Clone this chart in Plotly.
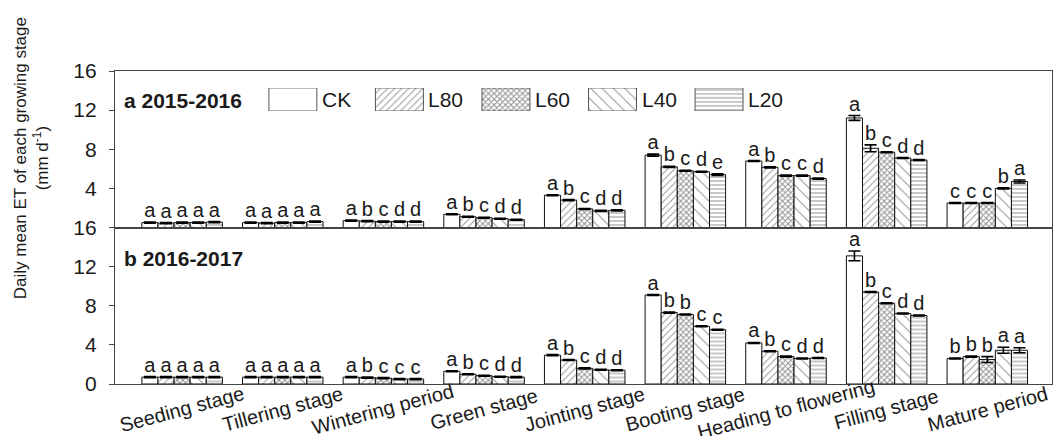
import plotly.graph_objects as go

stages = ["Seeding stage", "Tillering stage", "Wintering period", "Green stage",
          "Jointing stage", "Booting stage", "Heading to flowering", "Filling stage",
          "Mature period"]
series = ["CK", "L80", "L60", "L40", "L20"]

# 2015-2016
a_CK  = [0.5, 0.5, 0.7, 1.35, 3.3, 7.4, 6.8, 11.2, 2.5]
a_L80 = [0.45, 0.45, 0.65, 1.1, 2.8, 6.2, 6.15, 8.1, 2.5]
a_L60 = [0.5, 0.5, 0.6, 1.0, 1.9, 5.8, 5.3, 7.7, 2.5]
a_L40 = [0.5, 0.5, 0.6, 0.9, 1.7, 5.7, 5.3, 7.1, 4.0]
a_L20 = [0.55, 0.6, 0.6, 0.8, 1.75, 5.4, 5.0, 6.9, 4.7]
a_err_CK  = [0.05, 0.05, 0.05, 0.05, 0.05, 0.1, 0.05, 0.25, 0.05]
a_err_L80 = [0.05, 0.05, 0.05, 0.05, 0.05, 0.05, 0.05, 0.35, 0.05]
a_err_L60 = [0.05, 0.05, 0.05, 0.05, 0.05, 0.05, 0.05, 0.05, 0.05]
a_err_L40 = [0.05, 0.05, 0.05, 0.05, 0.05, 0.05, 0.05, 0.05, 0.05]
a_err_L20 = [0.05, 0.05, 0.05, 0.05, 0.05, 0.08, 0.05, 0.05, 0.15]
a_let_CK  = ["a", "a", "a", "a", "a", "a", "a", "a", "c"]
a_let_L80 = ["a", "a", "b", "b", "b", "b", "b", "b", "c"]
a_let_L60 = ["a", "a", "c", "c", "c", "c", "c", "c", "c"]
a_let_L40 = ["a", "a", "d", "d", "d", "d", "c", "d", "b"]
a_let_L20 = ["a", "a", "d", "d", "d", "e", "d", "d", "a"]

# 2016-2017
b_CK  = [0.7, 0.7, 0.7, 1.3, 2.95, 9.1, 4.2, 13.1, 2.6]
b_L80 = [0.7, 0.7, 0.65, 1.0, 2.45, 7.3, 3.35, 9.4, 2.8]
b_L60 = [0.7, 0.7, 0.6, 0.85, 1.6, 7.1, 2.8, 8.25, 2.5]
b_L40 = [0.7, 0.7, 0.5, 0.75, 1.45, 5.9, 2.6, 7.2, 3.45]
b_L20 = [0.7, 0.7, 0.5, 0.7, 1.4, 5.55, 2.65, 7.0, 3.45]
b_err_CK  = [0.05, 0.05, 0.05, 0.05, 0.05, 0.05, 0.05, 0.5, 0.05]
b_err_L80 = [0.05, 0.05, 0.05, 0.05, 0.05, 0.05, 0.05, 0.05, 0.05]
b_err_L60 = [0.05, 0.05, 0.05, 0.05, 0.05, 0.05, 0.05, 0.05, 0.3]
b_err_L40 = [0.05, 0.05, 0.05, 0.05, 0.05, 0.05, 0.05, 0.05, 0.3]
b_err_L20 = [0.05, 0.05, 0.05, 0.05, 0.05, 0.05, 0.05, 0.05, 0.25]
b_let_CK  = ["a", "a", "a", "a", "a", "a", "a", "a", "b"]
b_let_L80 = ["a", "a", "b", "b", "b", "b", "b", "b", "b"]
b_let_L60 = ["a", "a", "c", "c", "c", "b", "c", "c", "b"]
b_let_L40 = ["a", "a", "c", "d", "d", "c", "d", "d", "a"]
b_let_L20 = ["a", "a", "c", "d", "d", "c", "d", "d", "a"]

y_ticks_top = [4, 8, 12, 16]
y_ticks_bottom = [0, 4, 8, 12, 16]

pat_shape = ["", "/", "x", "\\", "-"]
pat_size = [8, 5, 4, 8, 4]
pat_sol = [0.2, 0.18, 0.45, 0.12, 0.25]

panels = [
    ("x", "y", [a_CK, a_L80, a_L60, a_L40, a_L20],
     [a_err_CK, a_err_L80, a_err_L60, a_err_L40, a_err_L20],
     [a_let_CK, a_let_L80, a_let_L60, a_let_L40, a_let_L20]),
    ("x2", "y2", [b_CK, b_L80, b_L60, b_L40, b_L20],
     [b_err_CK, b_err_L80, b_err_L60, b_err_L40, b_err_L20],
     [b_let_CK, b_let_L80, b_let_L60, b_let_L40, b_let_L20]),
]

FONT = "Liberation Sans, Arial, sans-serif"
TXT = "#1a1a1a"
AX = "#444444"

fig = go.Figure()
for xa, ya, vals, errs, lets in panels:
    for i, name in enumerate(series):
        fig.add_trace(go.Bar(
            x=stages, y=vals[i], name=name, xaxis=xa, yaxis=ya,
            offsetgroup=name, alignmentgroup=xa, showlegend=False,
            marker=dict(color="white", line=dict(color="#111111", width=1),
                        pattern=dict(shape=pat_shape[i], size=pat_size[i],
                                     solidity=pat_sol[i], fgcolor="#222222",
                                     bgcolor="white")),
            error_y=dict(type="data", array=errs[i], visible=True,
                         color="black", thickness=1.6, width=6),
        ))
    for i, name in enumerate(series):
        fig.add_trace(go.Scatter(
            x=stages, y=[v + e for v, e in zip(vals[i], errs[i])],
            mode="text", text=lets[i], textposition="top center",
            textfont=dict(family=FONT, size=20, color=TXT),
            xaxis=xa, yaxis=ya, offsetgroup=name, alignmentgroup=xa,
            showlegend=False, cliponaxis=False, hoverinfo="skip",
        ))

# custom legend swatches (large boxes like the reference)
fig.add_trace(go.Bar(
    x=series, y=[1] * len(series), xaxis="x3", yaxis="y3", width=0.45,
    showlegend=False, hoverinfo="skip",
    marker=dict(color="white", line=dict(color="#555555", width=1),
                pattern=dict(shape=pat_shape, size=pat_size, solidity=pat_sol,
                             fgcolor="#222222", bgcolor="white")),
))

axis_common = dict(showline=True, linecolor=AX, linewidth=1.3, mirror=True,
                   showgrid=False, zeroline=False)
yax_common = dict(axis_common, range=[0, 16], ticks="outside", ticklen=5,
                  tickwidth=1.2, tickcolor=AX, ticklabelstandoff=8,
                  tickfont=dict(family=FONT, size=21, color=TXT))

annotations = []
for name in series:
    annotations.append(dict(x=name, y=0.5, xref="x3", yref="y3", text=name,
                            showarrow=False, xanchor="left", xshift=27,
                            font=dict(family=FONT, size=21, color=TXT)))
for s in stages:
    annotations.append(dict(x=s, y=-0.081, xref="x2", yref="paper", text=s,
                            showarrow=False, textangle=-15, xanchor="center",
                            yanchor="middle",
                            font=dict(family=FONT, size=20, color=TXT)))
annotations.append(dict(x=0.008, y=0.907, xref="paper", yref="paper",
                        text="<b>a 2015-2016</b>", showarrow=False,
                        xanchor="left", yanchor="middle",
                        font=dict(family=FONT, size=21, color=TXT)))
annotations.append(dict(x=0.008, y=0.40, xref="paper", yref="paper",
                        text="<b>b 2016-2017</b>", showarrow=False,
                        xanchor="left", yanchor="middle",
                        font=dict(family=FONT, size=21, color=TXT)))
annotations.append(dict(x=-0.089, y=0.72, xref="paper", yref="paper",
                        text="Daily mean ET of each growing stage<br>(mm d<sup>-1</sup>)",
                        showarrow=False, textangle=-90, xanchor="center",
                        yanchor="middle",
                        font=dict(family=FONT, size=17, color=TXT)))

fig.update_layout(
    width=1062, height=436,
    margin=dict(l=107, r=18, t=63, b=60),
    paper_bgcolor="white", plot_bgcolor="white",
    barmode="group", bargap=0.2, bargroupgap=0,
    scattermode="group", scattergap=0.2,
    showlegend=False,
    xaxis=dict(axis_common, domain=[0, 1], anchor="y", type="category",
               showticklabels=False, ticks=""),
    yaxis=dict(yax_common, domain=[0.5, 1], anchor="x", tickvals=y_ticks_top),
    xaxis2=dict(axis_common, domain=[0, 1], anchor="y2", type="category",
                matches="x", showticklabels=False, ticks=""),
    yaxis2=dict(yax_common, domain=[0, 0.5], anchor="x2", tickvals=y_ticks_bottom),
    xaxis3=dict(domain=[0.133, 0.7015], anchor="y3", type="category",
                visible=False, range=[-0.5, 4.5]),
    yaxis3=dict(domain=[0.872, 0.946], anchor="x3", range=[0, 1], visible=False),
    annotations=annotations,
)

fig.write_html("out.html")
